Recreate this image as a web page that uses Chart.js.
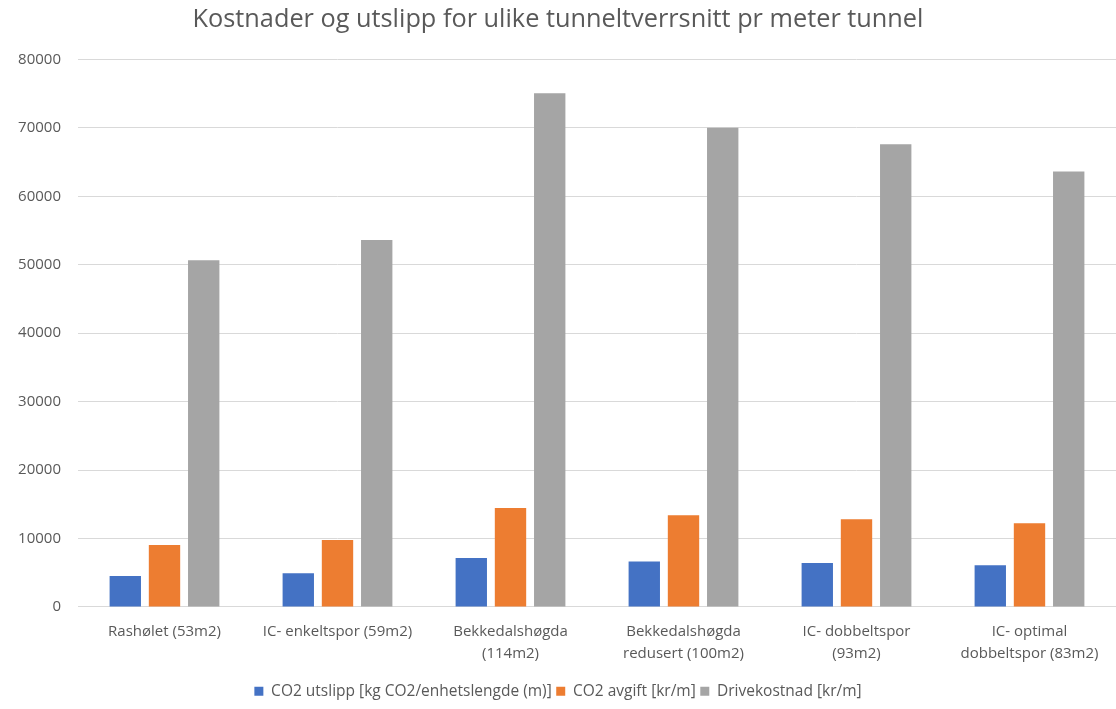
<!DOCTYPE html>
<html>
<head>
<meta charset="utf-8">
<script src="https://cdn.jsdelivr.net/npm/chart.js@4"></script>
<style>
  body { margin: 0; background: #fff; }
</style>
</head>
<body>
<canvas id="myChart" width="1116" height="709"></canvas>
<script>
// values
const categories = [
  "Rashølet (53m2)",
  "IC- enkeltspor (59m2)",
  ["Bekkedalshøgda", "(114m2)"],
  ["Bekkedalshøgda", "redusert (100m2)"],
  ["IC- dobbeltspor", "(93m2)"],
  ["IC- optimal", "dobbeltspor (83m2)"],
];
const co2Utslipp = [4520, 4920, 7150, 6630, 6420, 6090];
const co2Avgift = [9050, 9780, 14450, 13390, 12800, 12220];
const driveKostnad = [50650, 53600, 75040, 70000, 67600, 63610];
const yTicks = [0, 10000, 20000, 30000, 40000, 50000, 60000, 70000, 80000];

const font = "'Open Sans', 'Liberation Sans', sans-serif";
const textColor = "#595959";

var ctx = document.getElementById("myChart").getContext("2d");
var myChart = new Chart(ctx, {
  type: "bar",
  data: {
    labels: categories,
    datasets: [
      {
        label: "CO2 utslipp [kg CO2/enhetslengde (m)]",
        data: co2Utslipp,
        backgroundColor: "#4472c4",
      },
      {
        label: "CO2 avgift [kr/m]",
        data: co2Avgift,
        backgroundColor: "#ed7d31",
      },
      {
        label: "Drivekostnad [kr/m]",
        data: driveKostnad,
        backgroundColor: "#a5a5a5",
      },
    ],
  },
  options: {
    responsive: false,
    animation: false,
    categoryPercentage: 0.68,
    barPercentage: 0.8,
    layout: { padding: { top: 0, right: 0, left: 0, bottom: 0 } },
    plugins: {
      title: {
        display: true,
        text: "Kostnader og utslipp for ulike tunneltverrsnitt pr meter tunnel",
        color: textColor,
        font: { family: font, size: 25.3, weight: "normal" },
        padding: { top: 5, bottom: 24 },
      },
      legend: {
        position: "bottom",
        labels: {
          color: textColor,
          font: { family: font, size: 15.5 },
          boxWidth: 9,
          boxHeight: 9,
          padding: 4.5,
        },
      },
      tooltip: { enabled: false },
    },
    scales: {
      x: {
        grid: { display: false, drawTicks: false },
        border: { color: "#d9d9d9", width: 1 },
        ticks: {
          color: textColor,
          font: { family: font, size: 15, lineHeight: 1.47 },
          maxRotation: 0,
          autoSkip: false,
          padding: 14,
        },
      },
      y: {
        min: 0,
        max: 80000,
        afterFit: (axis) => { axis.width = 78; },
        afterBuildTicks: (axis) => { axis.ticks = yTicks.map((v) => ({ value: v })); },
        grid: { color: "#d9d9d9", drawTicks: false },
        border: { display: false },
        ticks: {
          color: textColor,
          font: { family: font, size: 15 },
          padding: 17,
          callback: (v) => String(v),
        },
      },
    },
  },
});
</script>
</body>
</html>
